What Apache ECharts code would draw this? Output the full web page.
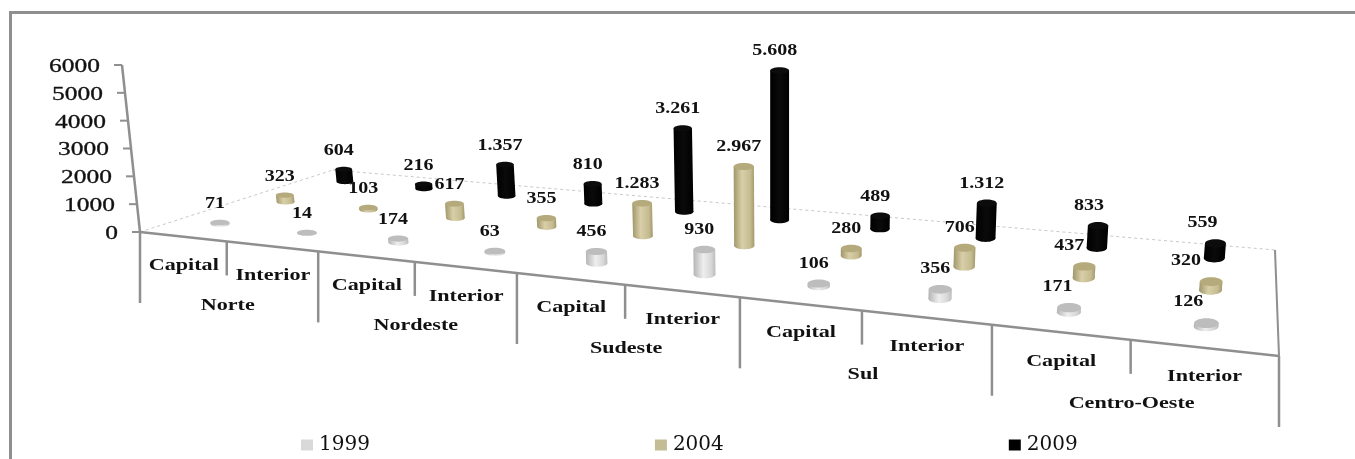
<!DOCTYPE html>
<html><head><meta charset="utf-8">
<style>html,body{margin:0;padding:0;background:#fff}#c{width:1355px;height:459px}</style>
<script src="https://cdn.jsdelivr.net/npm/echarts@6/dist/echarts.min.js"></script>
</head><body><div id="c"></div>
<script>
const regions = ['Norte','Nordeste','Sudeste','Sul','Centro-Oeste'];
const subCategories = ['Capital','Interior'];
const years = ['1999','2004','2009'];
const values1999 = [71,14,174,63,456,930,106,356,171,126];
const values2004 = [323,103,617,355,1283,2967,280,706,437,320];
const values2009 = [604,216,1357,810,3261,5608,489,1312,833,559];
const yTicks = [0,1000,2000,3000,4000,5000,6000];

const categories = regions.flatMap(r => subCategories.map(s => r + ' ' + s));
const GRID = {left:140, top:65, width:1139, height:167};
const SERIF = '"Liberation Serif","Times New Roman",serif';
const LINE = '#8f8f8f';

// floor of the 3D box: perspective map from (u along categories, d into depth)
const P00=[140,232], P10=[1279,356], P11=[1275,250], P01=[333,170];
const H=(function(){
  const dx1=P10[0]-P11[0],dx2=P01[0]-P11[0],sx=P00[0]-P10[0]+P11[0]-P01[0];
  const dy1=P10[1]-P11[1],dy2=P01[1]-P11[1],sy=P00[1]-P10[1]+P11[1]-P01[1];
  const den=dx1*dy2-dx2*dy1;
  const g=(sx*dy2-dx2*sy)/den,h=(dx1*sy-sx*dy1)/den;
  return {g,h,
    a:P10[0]-P00[0]+g*P10[0],b:P01[0]-P00[0]+h*P01[0],
    d:P10[1]-P00[1]+g*P10[1],e:P01[1]-P00[1]+h*P01[1]};
})();
function floor(u,d){
  const w=1+H.g*u+H.h*d;
  return {x:(P00[0]+H.a*u+H.b*d)/w,y:(P00[1]+H.d*u+H.e*d)/w,w};
}
const uOf=px=>(px-GRID.left)/GRID.width;
const vOf=py=>(GRID.top+GRID.height-py)/GRID.height;

function txt(text,x,y,font,sx,align,weight){
  const st={text,fill:'#111',font,textAlign:align||'center',textVerticalAlign:'middle',align:align||'center',verticalAlign:'middle'};
  if(weight){st.stroke='#111';st.lineWidth=weight;}
  return {type:'text',x,y,scaleX:sx,silent:true,style:st};
}
function line(x1,y1,x2,y2,stroke,width,dash){
  return {type:'line',silent:true,shape:{x1,y1,x2,y2},
    style:{stroke:stroke||LINE,lineWidth:width||2.5,lineDash:dash||null,fill:null}};
}
function grad(stops){
  return new echarts.graphic.LinearGradient(0,0,1,0,stops.map(c=>({offset:c[0],color:c[1]})));
}
const STYLES=[
 {body:[[0,'#b4b4b4'],[.45,'#eeeeee'],[.8,'#d8d8d8'],[1,'#bcbcbc']],top:'#bdbdbd',legend:'#d9d9d9'},
 {body:[[0,'#a0966a'],[.4,'#d8cfa8'],[.8,'#c6bc92'],[1,'#a3996c']],top:'#b5aa7c',legend:'#c4bc94'},
 {body:[[0,'#000'],[.5,'#0a0a0a'],[1,'#000']],top:'#0c0c0c',legend:'#000'}
];
const DEPTH=[.17,.5,.84];
const LABEL_SHIFT=[13,20,8];

function cylinderSeries(si,vals){
  return {
    type:'custom',name:years[si],coordinateSystem:'cartesian2d',clip:false,
    z:3+(2-si),
    itemStyle:{color:STYLES[si].legend},
    encode:{x:0,y:1},
    data:vals.map((v,i)=>[i,v]),
    renderItem(params,api){
      const pt=api.coord([api.value(0),api.value(1)]);
      const v=vOf(pt[1]),u=uOf(pt[0]);
      const base=floor(u,DEPTH[si]);
      const rx=9.75/base.w, ry=rx*(.28+.12*u);
      const fullScale=Math.min(160,122+70*u);
      const topY=base.y-v*fullScale;
      const topX=base.x+(base.x-780)*.028*v;
      const val=api.value(1);
      const s=STYLES[si];
      const fill=grad(s.body);
      const label=val>=1000?Math.floor(val/1000)+'.'+String(val%1000).padStart(3,'0'):String(val);
      const dx=-5-Math.max(0,(u-.75)/.2)*LABEL_SHIFT[si];
      return {type:'group',children:[
        {type:'ellipse',silent:true,shape:{cx:base.x,cy:base.y,rx,ry},style:{fill}},
        {type:'polygon',silent:true,shape:{points:[[base.x-rx,base.y],[base.x+rx,base.y],[topX+rx,topY],[topX-rx,topY]]},style:{fill}},
        {type:'ellipse',silent:true,shape:{cx:topX,cy:topY,rx,ry},style:{fill:s.top}},
        txt(label,topX+dx,topY-ry-16,'bold 16px '+SERIF,1.25)
      ]};
    }
  };
}

const option={
  animation:false,
  backgroundColor:'#fff',
  grid:{left:GRID.left,top:GRID.top,width:GRID.width,height:GRID.height},
  xAxis:{type:'category',data:categories,show:false},
  yAxis:{type:'value',min:0,max:6000,interval:1000,show:false},
  legend:{
    data:years.map(n=>({name:n,icon:'rect'})),
    left:296,top:430,itemWidth:12,itemHeight:11,itemGap:285,itemStyle:{borderWidth:0},
    selectedMode:false,
    textStyle:{fontFamily:'"DejaVu Serif"',fontSize:20,color:'#111',padding:[0,0,0,1]}
  },
  graphic:[{type:'rect',silent:true,shape:{x:10.5,y:12.5,width:1400,height:470},style:{fill:'none',stroke:LINE,lineWidth:3},z:0}],
  series:[
    { // box walls: dashed back edges, front edge and left value axis
      type:'custom',name:'frame',clip:false,z:1,silent:true,encode:{x:0,y:1},
      data:[[0,6000]],
      renderItem(params,api){
        const top=vOf(api.coord([0,api.value(1)])[1]);
        return {type:'group',children:[
          line(P00[0],P00[1],P01[0],P01[1],'#c9c9c9',1,[3,3]),
          line(P01[0],P01[1],P11[0],P11[1],'#c9c9c9',1,[3,3]),
          line(P11[0],P11[1],P10[0],P10[1],LINE,2),
          line(P00[0],P00[1],P10[0],P10[1],LINE,2.5),
          line(P00[0],P00[1],P00[0]-18*top,P00[1]-GRID.height*top,LINE,2.5)
        ]};
      }
    },
    { // value axis ticks and labels
      type:'custom',name:'valueAxis',clip:false,z:2,silent:true,encode:{x:0,y:1},
      data:yTicks.map(t=>[0,t]),
      renderItem(params,api){
        const val=api.value(1);
        const py=api.coord([0,val])[1];
        const x=P00[0]-18*vOf(py);
        return {type:'group',children:[
          line(x-8,py,x,py,LINE,2),
          txt(String(val),x-22,py+2,'19px '+SERIF,1.34,'right',.3)
        ]};
      }
    },
    { // category ticks and labels
      type:'custom',name:'categoryAxis',clip:false,z:2,silent:true,encode:{x:0,y:1},
      data:categories.map((c,i)=>[i,0]),
      renderItem(params,api){
        const i=api.value(0);
        const pt=api.coord([i,0]);
        const bw=api.size([1,0])[0]/GRID.width;
        const u=uOf(pt[0]);
        const isRegionStart=i%subCategories.length===0;
        const kids=[];
        const s=floor(u-bw/2,0), c=floor(u,0);
        kids.push(line(s.x,s.y,s.x,s.y+(isRegionStart?71:34),LINE,2.5));
        if(i===categories.length-1){const e=floor(u+bw/2,0);kids.push(line(e.x,e.y,e.x,e.y+71,LINE,2.5));}
        kids.push(txt(subCategories[i%subCategories.length],c.x+1,c.y+29,'bold 17px '+SERIF,1.3));
        if(isRegionStart){
          const m=floor(u+bw/2,0);
          kids.push(txt(regions[i/subCategories.length],m.x+1,m.y+64,'bold 17px '+SERIF,1.3));
        }
        return {type:'group',children:kids};
      }
    },
    cylinderSeries(2,values2009),
    cylinderSeries(1,values2004),
    cylinderSeries(0,values1999)
  ]
};
const chart=echarts.init(document.getElementById('c'),null,{renderer:'canvas',width:1355,height:459});
chart.setOption(option);
</script></body></html>
